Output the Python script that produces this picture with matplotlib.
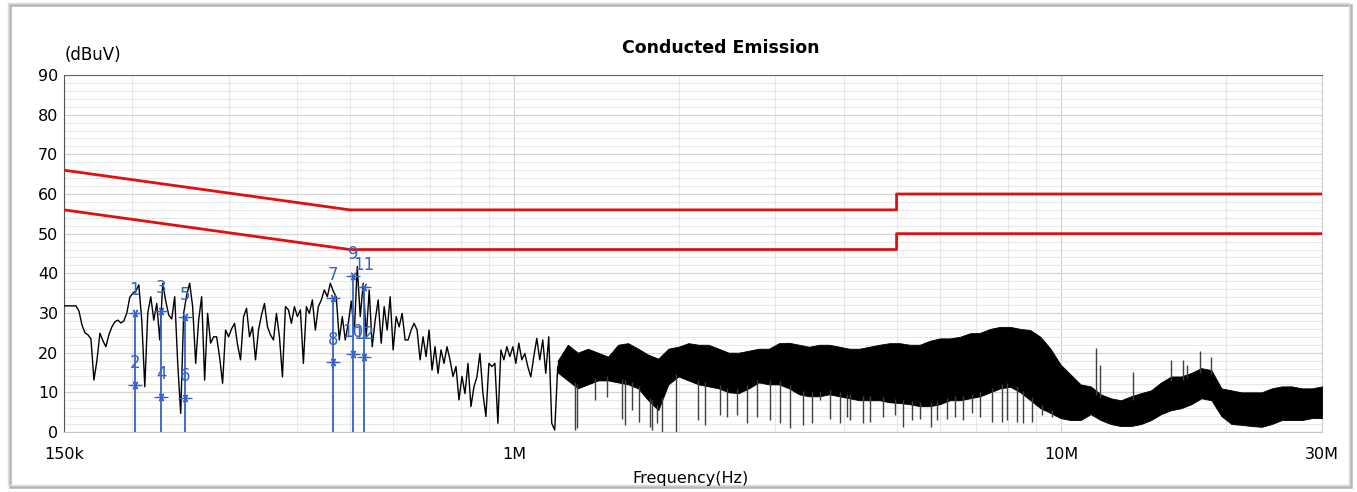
import numpy as np
import matplotlib
matplotlib.use('Agg')
import matplotlib.pyplot as plt
from matplotlib.ticker import MultipleLocator, LogLocator, NullFormatter, FixedLocator
from matplotlib.patches import Rectangle

# ---------------- data ----------------
# limit lines (MHz, dBuV)
limit_freq_mhz = [0.15, 0.5, 5.0, 5.0, 30.0]
qp_limit = [66, 56, 56, 60, 60]
av_limit = [56, 46, 46, 50, 50]

# low-frequency part of the sweep: 150 kHz .. 1.2 MHz (log sweep, 166 points)
sweep1_start_hz = 150e3
sweep1_stop_hz = 1.2e6
trace1_db = [
    31.8, 31.8, 31.8, 31.8, 31.8, 30.5, 27.0, 25.0, 24.5, 23.5,
    13.1, 18.0, 24.9, 23.0, 21.5, 24.5, 26.5, 27.8, 28.2, 27.5,
    28.0, 30.0, 34.0, 35.0, 35.5, 37.1, 28.0, 11.4, 30.0, 34.1,
    28.2, 32.4, 23.2, 37.5, 33.0, 29.5, 28.5, 34.1, 17.3, 4.7,
    30.0, 34.5, 37.5, 31.6, 17.3, 28.2, 34.1, 13.1, 29.9, 22.4,
    24.0, 24.0, 18.9, 12.3, 25.7, 24.0, 26.0, 27.4, 22.0, 18.2,
    29.0, 31.2, 24.0, 26.5, 18.2, 25.7, 29.5, 32.4, 26.5, 24.5,
    23.2, 29.9, 24.0, 13.9, 31.6, 30.8, 27.4, 31.6, 29.1, 30.8,
    17.3, 31.6, 29.9, 33.3, 25.7, 31.6, 33.3, 35.8, 34.1, 37.5,
    35.5, 34.0, 23.2, 29.1, 23.2, 27.4, 33.0, 24.9, 41.7, 29.1,
    37.5, 24.0, 35.8, 21.5, 28.2, 33.3, 22.4, 31.6, 25.7, 34.1,
    20.7, 29.1, 26.5, 29.9, 23.2, 23.2, 25.7, 27.4, 25.7, 18.2,
    24.0, 19.0, 25.7, 15.6, 21.5, 14.8, 20.7, 17.3, 21.5, 18.2,
    14.0, 16.5, 8.1, 14.0, 9.7, 17.3, 6.4, 11.4, 13.9, 19.8,
    9.7, 3.9, 17.3, 16.5, 17.3, 2.2, 20.7, 18.2, 21.5, 19.0,
    21.5, 17.3, 22.4, 18.2, 19.8, 16.5, 13.9, 19.0, 23.6, 18.2,
    23.2, 14.8, 24.0, 2.2, 0.5, 16.5,
]

# high-frequency part: 1.2 MHz .. 30 MHz, envelope of the dense noise band (77 log points)
sweep2_start_hz = 1.2e6
sweep2_stop_hz = 30e6
band_hi_db = [
    18, 22, 20, 21, 20, 19, 22, 22.4, 21, 19.5,
    18.5, 21, 21.5, 22.4, 22, 22, 21, 20, 20, 20.5,
    21, 21, 22.4, 22.5, 22, 21.5, 22, 22, 21.5, 21,
    21, 21.5, 22, 22.4, 22.4, 22, 22, 23, 23.6, 23.6,
    24, 24.9, 25, 26, 26.5, 26.5, 26, 25.7, 24, 21,
    17, 14.5, 12, 11.5, 9.5, 8.5, 8, 9, 9.8, 10.5,
    12.5, 14, 14, 14.9, 16.1, 15.6, 11, 10.5, 10, 10,
    10, 11, 11.5, 11.5, 11, 11, 11.5,
]
band_lo_db = [
    15, 13, 11, 12, 13, 13, 12.5, 12, 11, 8,
    5.5, 12, 14, 13, 12, 11.5, 11, 10, 9.8, 11,
    12.5, 12, 12, 11, 9.5, 9, 9, 9.5, 9, 8.5,
    8, 8, 8, 7.5, 7.3, 7, 6.5, 6.5, 7, 8,
    8, 8.5, 9, 10, 11, 11.4, 10, 8, 6, 4.8,
    3.5, 3, 3, 4.5, 3, 2, 1.5, 1.5, 2, 3,
    4.5, 5.5, 6, 7, 8.5, 8, 4, 2, 1.8, 1.5,
    1.3, 2, 3, 3, 3, 3.5, 3.5,
]

# downward spikes in the noise band
dip_mhz = [1.291, 1.300, 1.404, 1.477, 1.571, 1.593, 1.638, 1.692, 1.770, 1.783,
           1.821, 1.860, 1.974, 2.169, 2.231, 2.378, 2.445, 2.550, 2.661, 2.774,
           2.934, 3.060, 3.192, 3.367, 3.498, 3.623, 3.777, 3.939, 4.053, 4.110,
           4.346, 4.470, 4.728, 4.967, 5.143, 5.328, 5.518, 5.772, 5.920, 6.176,
           6.396, 6.623, 6.861, 7.105, 7.464, 7.785, 7.951, 8.294, 8.528, 8.834,
           9.214, 9.611]
dip_db = [0.5, 1.0, 8.1, 8.9, 3.4, 1.8, 5.5, 2.6, 1.3, 0.5,
          2.2, 0.1, 0.1, 3.0, 1.8, 4.3, 3.9, 4.3, 2.2, 3.9,
          3.0, 2.2, 0.9, 1.8, 2.2, 8.1, 3.4, 2.2, 3.9, 3.0,
          2.2, 2.6, 3.9, 4.3, 1.3, 3.0, 3.4, 1.3, 3.0, 3.4,
          3.9, 3.0, 4.7, 3.9, 2.6, 2.6, 3.0, 2.6, 2.2, 2.6,
          4.3, 3.9]

# upward spikes
peak_mhz = [11.58, 11.78, 13.53, 15.88, 16.71, 16.99, 17.96, 18.80]
peak_db = [21.1, 16.9, 15.2, 18.2, 18.2, 17.0, 20.5, 18.8]

# markers
marker_khz = [202, 202, 226, 226, 250, 250, 466, 466, 507, 507, 531, 531]
marker_db = [30.1, 11.8, 30.6, 8.9, 28.9, 8.5, 33.9, 17.7, 39.3, 19.6, 36.5, 19.0]
marker_labels = ['1', '2', '3', '4', '5', '6', '7', '8', '9', '10', '11', '12']

xtick_hz = [150e3, 1e6, 10e6, 30e6]
xtick_labels = ['150k', '1M', '10M', '30M']

# ---------------- plot ----------------
W, H = 1357, 492
fig = plt.figure(figsize=(W / 100, H / 100), dpi=100)
fig.patch.set_facecolor('white')

L, R, T, B = 64, 1322, 75, 432
ax = fig.add_axes([L / W, 1 - B / H, (R - L) / W, (B - T) / H])

f1 = np.geomspace(sweep1_start_hz, sweep1_stop_hz, len(trace1_db))
f2 = np.geomspace(sweep2_start_hz, sweep2_stop_hz, len(band_hi_db))
hi = np.array(band_hi_db)
lo = np.array(band_lo_db)

ax.plot(f1, trace1_db, color='black', lw=1.0, zorder=3)
ax.fill_between(f2, lo, hi, color='black', lw=0.6, edgecolor='black', zorder=3)

dip_f = np.array(dip_mhz) * 1e6
lo_at = np.interp(np.log10(dip_f), np.log10(f2), lo) + 1
ax.vlines(dip_f, dip_db, lo_at, color='#404040', lw=1.0, zorder=3)
pk_f = np.array(peak_mhz) * 1e6
hi_at = np.interp(np.log10(pk_f), np.log10(f2), hi) - 1
ax.vlines(pk_f, hi_at, peak_db, color='#404040', lw=1.0, zorder=3)

lf = np.array(limit_freq_mhz) * 1e6
ax.plot(lf, qp_limit, color='#e01010', lw=2.0, zorder=4)
ax.plot(lf, av_limit, color='#e01010', lw=2.0, zorder=4)

blue = '#3563c4'
mf = np.array(marker_khz) * 1e3
md = np.array(marker_db)
for i in range(0, len(mf), 2):
    ax.vlines(mf[i], 0, max(md[i], md[i + 1]), color=blue, lw=1.3, zorder=5)
ax.plot(mf, md, linestyle='none', marker=(6, 2, 90), markersize=6,
        markeredgecolor=blue, markeredgewidth=0.9, color=blue, zorder=6)
ax.plot(mf, md, linestyle='none', marker='_', markersize=10,
        markeredgecolor=blue, markeredgewidth=0.9, zorder=6)
for f, d, t in zip(mf, md, marker_labels):
    ax.annotate(t, (f, d), xytext=(0, 16), textcoords='offset points',
                ha='center', va='center', color=blue, fontsize=12, zorder=7)

ax.set_xscale('log')
ax.set_xlim(150e3, 30e6)
ax.set_ylim(0, 90)
ax.xaxis.set_major_locator(FixedLocator(xtick_hz))
ax.set_xticklabels(xtick_labels)
ax.xaxis.set_minor_locator(LogLocator(base=10, subs=np.arange(2, 10)))
ax.xaxis.set_minor_formatter(NullFormatter())
ax.yaxis.set_major_locator(MultipleLocator(10))
ax.yaxis.set_minor_locator(MultipleLocator(2))
ax.tick_params(which='both', length=0)
ax.tick_params(axis='y', labelsize=11.5, pad=4)
ax.tick_params(axis='x', labelsize=11.5, pad=11)
ax.grid(which='major', color='#d4d4d4', lw=0.9)
ax.grid(which='minor', color='#e8e8e8', lw=0.8)
ax.set_axisbelow(True)

ax.spines['left'].set_color('#555555')
ax.spines['top'].set_color('#666666')
ax.spines['bottom'].set_color('#c8c8c8')
ax.spines['right'].set_color('#d0d0d0')

fig.text(721 / W, 1 - 48 / H, 'Conducted Emission', ha='center', va='center',
         fontsize=12.5, fontweight='bold')
fig.text(65 / W, 1 - 55 / H, '(dBuV)', ha='left', va='center', fontsize=12)
fig.text(690 / W, 1 - 478 / H, 'Frequency(Hz)', ha='center', va='center', fontsize=11.5)

fig.patches.append(Rectangle((10 / W, 5 / H), 1341 / W, 482 / H, fill=False,
                             edgecolor='#b4b4b4', lw=1.8, transform=fig.transFigure))
fig.patches.append(Rectangle((8 / W, 7 / H), 1341 / W, 482 / H, fill=False,
                             edgecolor='#dadada', lw=1.0, transform=fig.transFigure))

fig.savefig('out.png', dpi=100)
